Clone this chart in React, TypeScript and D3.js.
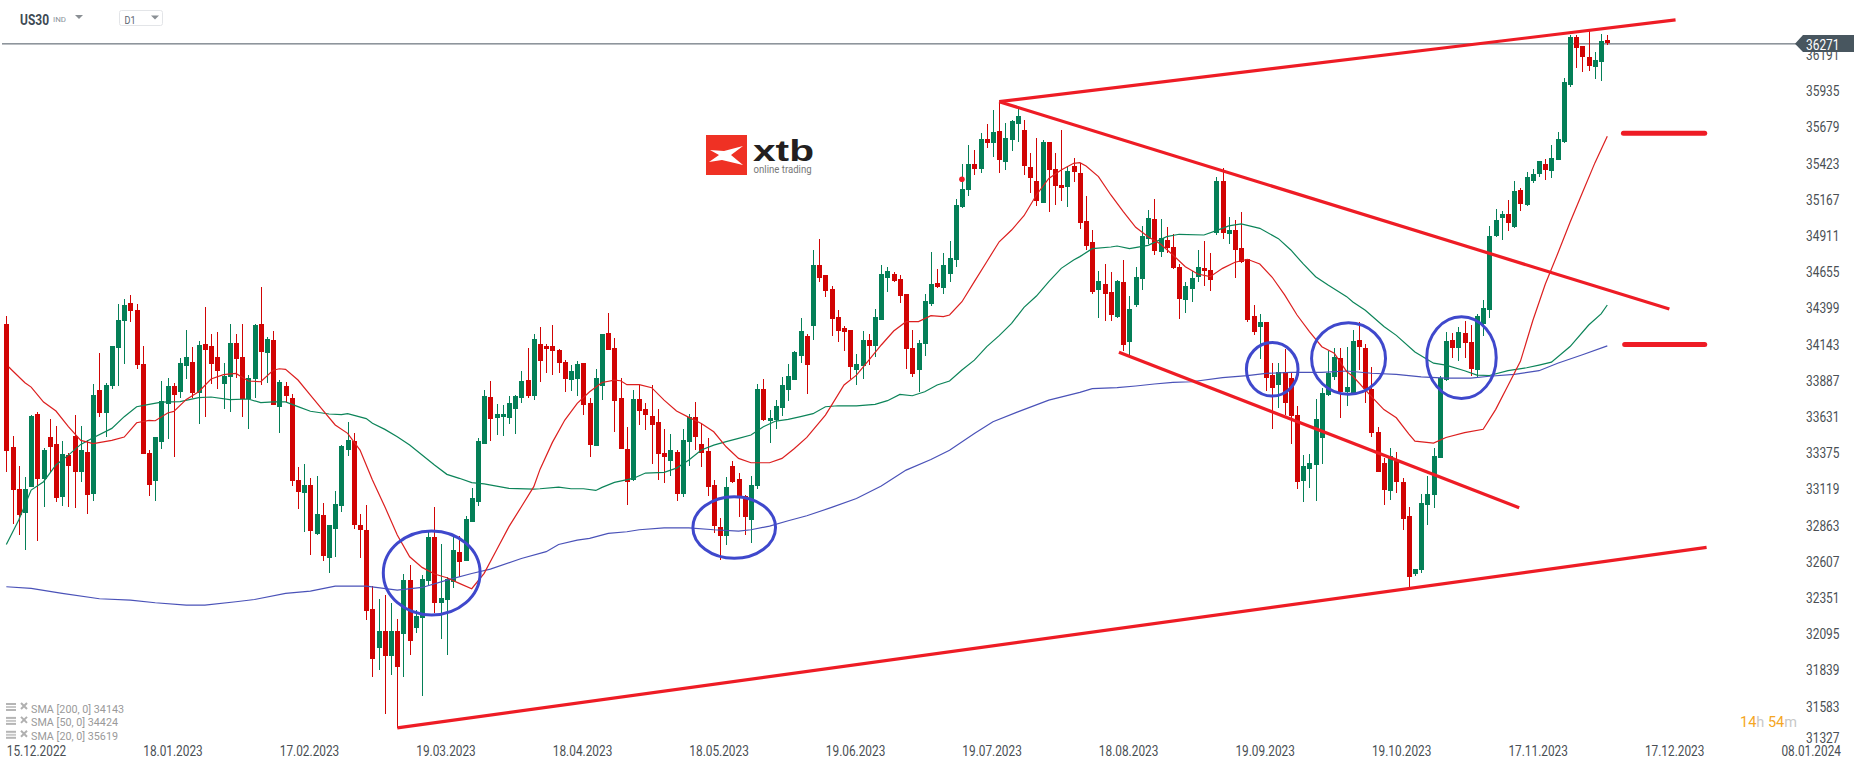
import React from 'react';
import * as d3 from 'd3';

// open, high, low, close per daily bar
const ohlc: [number, number, number, number][] = [
  [34288,34345,33244,33392],[33418,33496,32876,33116],[33121,33284,32798,32939],[32954,33206,32692,33121],[33137,33644,33137,33637],
  [33651,33666,32755,33192],[33194,33411,32996,33397],[33489,33616,33244,33418],[33439,33567,33031,33060],[33067,33460,33003,33368],
  [33361,33376,32996,33284],[33496,33644,32989,33244],[33244,33567,33173,33397],[33383,33468,32946,33081],[33088,33864,33038,33786],
  [33821,34083,33633,33661],[33661,33871,33491,33857],[33850,34132,33831,34132],[34121,34430,33852,34316],[34312,34465,34008,34423],
  [34437,34493,34305,34380],[34387,34430,33972,34000],[34005,34132,33371,33371],[33376,33397,33074,33152],[33180,33489,33038,33489],
  [33456,33885,33406,33743],[33725,33906,33477,33850],[33850,33871,33350,33786],[33809,34048,33762,34012],[33993,34246,33901,34055],
  [34019,34125,33767,33802],[33802,34168,33583,34140],[34147,34408,33633,34107],[34132,34217,33866,34008],[34055,34232,33831,33958],
  [33866,34012,33689,33920],[33916,34288,33668,34154],[34154,34217,33904,34043],[34055,34288,33633,33760],[33760,33927,33548,33906],
  [33901,34288,33767,34281],[34288,34550,33859,34092],[34085,34196,33873,34182],[34175,34239,33713,33718],[33704,33892,33520,33878],
  [33850,33876,33739,33782],[33765,33793,33145,33180],[33185,33277,32982,33102],[33095,33298,32819,33150],[33150,33199,32654,32826],
  [32805,33213,32798,32944],[32937,33022,32614,32650],[32636,32867,32529,32867],[32841,33107,32643,33015],[33003,33433,32961,33425],
  [33399,33595,33357,33468],[33461,33517,32841,32869],[32867,32944,32636,32831],[32831,33008,32197,32261],[32272,32435,31794,31921],
  [31999,32343,31843,32117],[32117,32371,31532,31942],[31942,32315,31808,32117],[32117,32202,31432,31864],[32098,32520,31794,32478],
  [32478,32584,31949,32048],[32140,32265,32105,32223],[32211,32513,31659,32485],[32473,32817,32442,32782],[32782,32994,32242,32317],
  [32317,32732,32062,32350],[32338,32501,31949,32487],[32466,32779,32423,32690],[32676,32786,32501,32607],[32614,32930,32612,32909],
  [32890,33128,32890,33058],[33032,33482,33003,33461],[33442,33822,33442,33779],[33772,33885,33463,33619],[33624,33723,33506,33652],
  [33631,33715,33499,33652],[33626,33779,33583,33730],[33690,33786,33513,33779],[33767,33956,33732,33885],[33892,34119,33767,33782],
  [33782,34218,33753,34182],[34147,34267,33881,34029],[34132,34147,33944,34114],[34132,34281,33930,34099],[34104,34111,33944,34015],
  [34019,34033,33809,33901],[33894,33998,33816,33956],[33901,34026,33781,34005],[34012,34012,33647,33717],[33729,33765,33350,33434],
  [33427,33970,33427,33906],[33852,34217,33753,34217],[34224,34366,34104,34106],[34118,34189,33526,33746],[33765,33906,33406,33406],
  [33404,33559,33010,33173],[33187,33821,33180,33757],[33757,33857,33576,33675],[33687,33729,33541,33647],[33637,33857,33300,33576],
  [33595,33687,33187,33371],[33376,33545,33166,33350],[33321,33510,33215,33397],[33383,33397,33038,33088],[33088,33545,33067,33467],
  [33456,33651,33286,33633],[33630,33736,33397,33491],[33439,33588,33279,33378],[33390,33482,33074,33137],[33149,33184,32812,32861],
  [32852,32916,32621,32791],[32791,33206,32727,33135],[33284,33319,33166,33173],[33192,33234,32925,33067],[33071,33078,32798,32923],
  [32904,33213,32741,33149],[33144,33864,33123,33828],[33828,33899,33604,33611],[33604,33680,33449,33623],[33611,33750,33548,33708],
  [33696,33913,33640,33857],[33823,34005,33746,33920],[33894,34097,33894,34090],[34064,34330,34015,34239],[34203,34217,33795,34000],
  [34276,34812,34177,34705],[34705,34889,34588,34616],[34635,34635,34481,34524],[34536,34557,34206,34326],[34338,34387,34163,34241],
  [34260,34274,34099,34234],[34246,34246,33897,33986],[33965,34076,33859,34005],[33993,34239,33901,34175],[34175,34217,34000,34135],
  [34135,34394,34057,34338],[34319,34705,34319,34642],[34616,34691,34517,34663],[34642,34656,34588,34595],[34606,34635,34439,34488],
  [34500,34500,33972,34114],[34118,34246,33915,33937],[33965,34175,33809,34154],[34149,34500,34064,34451],[34432,34797,34418,34571],
  [34578,34677,34545,34552],[34545,34790,34503,34705],[34644,34875,34588,34755],[34743,35172,34694,35130],[35118,35420,35111,35243],
  [35238,35554,35196,35420],[35420,35519,35342,35387],[35387,35639,35359,35597],[35597,35703,35535,35571],[35571,35802,35472,35646],
  [35653,35851,35359,35451],[35436,35710,35380,35604],[35592,35731,35514,35724],[35705,35809,35578,35759],[35660,35731,35342,35408],
  [35399,35498,35217,35323],[35300,35604,35125,35161],[35146,35590,35146,35576],[35576,35576,35083,35380],[35385,35498,35132,35267],
  [35271,35660,35161,35252],[35260,35406,35118,35370],[35406,35462,35295,35366],[35357,35430,34960,35005],[35017,35194,34809,34843],
  [34868,34953,34503,34517],[34531,34663,34333,34593],[34571,34713,34312,34503],[34515,34656,34312,34354],[34340,34600,34333,34593],
  [34585,34741,34100,34142],[34163,34486,34071,34394],[34425,34692,34411,34621],[34609,34982,34531,34911],[34892,35095,34857,35038],
  [35031,35173,34779,34807],[34800,35031,34765,34897],[34883,34975,34793,34828],[34833,34925,34680,34687],[34692,34713,34326,34468],
  [34460,34585,34369,34557],[34538,34663,34446,34614],[34623,34812,34588,34692],[34685,34876,34560,34666],[34670,34791,34524,34602],
  [34934,35328,34920,35300],[35300,35392,34892,34934],[34927,35045,34857,34956],[34956,35024,34616,34814],[34826,35081,34722,34729],
  [34748,34748,34305,34319],[34345,34423,34213,34234],[34270,34361,34043,34303],[34303,34303,33817,33909],[33928,34013,33548,33838],
  [33859,34013,33697,33949],[33949,34114,33647,33732],[33906,33944,33442,33640],[33645,33711,33123,33173],[33180,33364,33027,33284],
  [33265,33369,33131,33305],[33293,33758,33039,33616],[33484,33836,33300,33800],[33788,34097,33781,33942],[33916,34119,33892,34055],
  [34048,34121,33621,33810],[33805,34123,33711,33843],[33801,34247,33788,34168],[34176,34302,33966,34129],[34118,34145,33727,33827],
  [33827,33985,33486,33517],[33523,33557,33242,33242],[33302,33341,33008,33113],[33110,33410,33047,33355],[33320,33381,33092,33171],
  [33171,33197,32830,32908],[32927,32995,32410,32496],[32517,32559,32507,32557],[32546,33084,32528,33019],[33008,33210,32864,33089],
  [33079,33410,32984,33352],[33341,33924,33341,33906],[33893,34231,33887,34168],[34176,34226,34048,34118],[34118,34268,34029,34231],
  [34226,34310,34050,34155],[34160,34281,33919,33969],[33964,34357,33906,34344],[34289,34457,34200,34399],[34384,34982,34334,34914],
  [34909,35105,34901,35027],[35040,35087,34880,35063],[35063,35166,34943,35006],[34972,35297,34966,35226],[35237,35247,35090,35137],
  [35127,35360,35121,35331],[35302,35386,35284,35352],[35352,35439,35326,35439],[35423,35452,35310,35381],[35368,35552,35318,35460],
  [35447,35644,35447,35594],[35573,36027,35567,35998],[35977,36334,35966,36321],[36318,36334,36098,36239],[36255,36255,36069,36176],
  [36176,36360,36077,36116],[36106,36211,36019,36155],[36142,36339,36006,36289],[36295,36331,36260,36274],
];

// moving averages, [bar, price]
const sma20: [number, number][] = [
  [0.4,33984],[1,33958],[3,33873],[4,33842],[6,33736],[8,33673],[10,33562],[12,33465],[14,33442],[17,33465],[19,33489],[21,33590],[23,33607],[24,33604],
  [26,33659],[27,33670],[29,33755],[31,33809],[33,33899],[35,33930],[37,33939],[39,33885],[41,33880],[43,33961],[44,33972],[45,33968],[47,33892],
  [49,33786],[51,33680],[53,33574],[55,33515],[57,33397],[59,33185],[61,32996],[63,32796],[65,32642],[67,32567],[69,32520],[71,32494],[73,32454],
  [75,32416],[77,32525],[79,32690],[81,32855],[83,32996],[85,33138],[86,33260],[88,33451],[90,33609],[92,33727],[94,33809],[96,33875],[98,33892],
  [99,33887],[100,33859],[102,33859],[104,33838],[106,33750],[108,33673],[110,33628],[112,33585],[114,33526],[116,33420],[118,33338],[120,33307],
  [123,33307],[125,33338],[127,33408],[129,33486],[132,33644],[133,33715],[135,33857],[137,33927],[139,34033],[141,34140],[143,34239],[145,34305],
  [147,34305],[149,34347],[151,34340],[152,34352],[154,34446],[156,34588],[158,34729],[160,34870],[162,34953],[164,35054],[166,35201],[168,35318],
  [170,35377],[172,35425],[173,35429],[174,35406],[176,35331],[178,35201],[180,35083],[182,34972],[184,34906],[186,34854],[188,34776],[190,34694],
  [192,34642],[194,34623],[196,34682],[198,34725],[200,34746],[202,34713],[204,34619],[206,34494],[208,34352],[210,34234],[212,34128],[214,34081],
  [216,33951],[217,33919],[220,33775],[222,33683],[224,33625],[226,33512],[227,33460],[230,33446],[232,33486],[235,33520],[238,33544],[240,33683],
  [242,33853],[244,34024],[246,34313],[248,34570],[250,34785],[252,35008],[254,35218],[256,35428],[258,35617],
];
const sma50: [number, number][] = [
  [0,32729],[2,32902],[4,33114],[6,33173],[8,33291],[10,33361],[12,33437],[14,33484],[17,33550],[19,33633],[21,33703],[23,33720],[25,33736],[28,33739],
  [31,33767],[33,33772],[36,33753],[39,33758],[41,33732],[43,33737],[45,33737],[47,33704],[49,33671],[52,33652],[54,33647],[55,33654],[58,33619],
  [59,33586],[61,33543],[63,33491],[65,33432],[67,33362],[69,33291],[71,33225],[73,33197],[75,33166],[77,33157],[79,33142],[81,33126],[85,33121],
  [86,33123],[89,33135],[91,33123],[93,33123],[95,33111],[96,33133],[98,33168],[101,33196],[103,33234],[106,33239],[108,33269],[110,33326],[112,33397],
  [114,33432],[116,33456],[118,33479],[120,33503],[122,33562],[124,33602],[126,33614],[128,33633],[130,33654],[132,33703],[134,33710],[137,33710],
  [140,33720],[142,33746],[144,33790],[146,33781],[148,33809],[150,33857],[152,33885],[154,33963],[156,34033],[158,34128],[160,34206],[162,34293],
  [164,34406],[166,34486],[168,34588],[170,34682],[172,34741],[173,34765],[175,34821],[178,34833],[179,34840],[181,34821],[184,34845],[187,34906],
  [189,34923],[193,34918],[195,34949],[197,34982],[199,34996],[202,34965],[205,34892],[207,34812],[209,34713],[211,34623],[213,34564],[216,34482],
  [217,34444],[219,34386],[222,34271],[224,34208],[227,34090],[230,34011],[232,33998],[235,33958],[237,33927],[239,33924],[242,33958],[245,33979],
  [247,33998],[249,34019],[252,34129],[255,34281],[257,34360],[258,34423],
];
const sma200: [number, number][] = [
  [0,32430],[4,32418],[9,32383],[15,32345],[20,32336],[24,32317],[29,32300],[32,32300],[37,32324],[40,32340],[45,32383],[49,32399],[53,32435],[58,32435],
  [63,32406],[67,32425],[71,32477],[75,32524],[78,32555],[83,32630],[87,32678],[89,32729],[92,32760],[94,32772],[97,32807],[100,32819],[102,32833],
  [106,32847],[110,32847],[114,32833],[118,32824],[120,32833],[123,32859],[126,32897],[129,32932],[133,32991],[137,33054],[141,33142],[145,33255],
  [149,33330],[152,33396],[156,33514],[159,33597],[163,33667],[168,33750],[173,33805],[175,33831],[179,33838],[182,33850],[185,33864],[188,33876],
  [191,33880],[196,33909],[200,33923],[203,33939],[207,33946],[212,33946],[216,33956],[220,33940],[224,33932],[228,33914],[232,33906],[236,33906],
  [239,33919],[243,33932],[247,33958],[250,34011],[254,34071],[258,34134],
];

const priceTicks = [36191,35935,35679,35423,35167,34911,34655,34399,34143,33887,33631,33375,33119,32863,32607,32351,32095,31839,31583,31327];
const dateLabels = ['15.12.2022','18.01.2023','17.02.2023','19.03.2023','18.04.2023','18.05.2023','19.06.2023','19.07.2023','18.08.2023','19.09.2023','19.10.2023','17.11.2023','17.12.2023','08.01.2024'];
const barsPerDateLabel = 22;
const lastPrice = 36271;

const legendRows = ['SMA [200, 0] 34143', 'SMA [50, 0] 34424', 'SMA [20, 0] 35619'];

// hand drawn trend lines: [bar, price] -> [bar, price]
const trendLines: [number, number, number, number][] = [
  [160,35861,269,36439],
  [160,35861,268,34394],
  [179.3,34088,243.8,32989],
  [63,31432,274,32708],
];
const levelLines: [number, number, number][] = [
  [260.6,273.7,35637],
  [260.8,273.7,34144],
];
// centre bar, centre price, half width in bars, half height in points
const circles: [number, number, number, number][] = [
  [68.55,32528,7.8,297],
  [117.3,32849,6.66,218],
  [204,33968,4.16,189],
  [216.3,34045,5.96,253],
  [234.5,34050,5.6,289],
];
const markerDot = [154, 35312];

const UP = '#047f57';
const DOWN = '#d10404';
const MARK = '#ee1c25';
const font = 'Roboto, sans-serif';

const x = d3.scaleLinear().domain([0, 258]).range([6.33, 1607.3]);
const y = d3.scaleLinear().domain([31583, 36191]).range([706.5, 55]);

const smaLine = d3.line<[number, number]>().x(d => x(d[0])).y(d => y(d[1]));

export default function App() {
  return (
    <svg width={1866} height={767} style={{ position: 'absolute', left: 0, top: 0, background: '#fff' }}>
      {/* header */}
      <text x={20} y={19.5} fontFamily={font} fontSize={14} fontWeight={700} fill="#3d4a54" dominantBaseline="central" textLength={29} lengthAdjust="spacingAndGlyphs">US30</text>
      <text x={53} y={19.5} fontFamily={font} fontSize={8} fill="#8a9299" dominantBaseline="central" textLength={13} lengthAdjust="spacingAndGlyphs">IND</text>
      <path d="M75,15 L83,15 L79,19 Z" fill="#8a8f94" />
      <rect x={119.5} y={10.5} width={43} height={15} rx={2} fill="#fff" stroke="#e3e5e8" />
      <text x={124.5} y={20} fontFamily={font} fontSize={11} fill="#5a6670" dominantBaseline="central" textLength={11} lengthAdjust="spacingAndGlyphs">D1</text>
      <path d="M151,15.5 L159,15.5 L155,19.5 Z" fill="#8a8f94" />

      {/* logo */}
      <rect x={706} y={135} width={41} height={40} fill="#ef3124" />
      <path d="M710,150 L724,151 L743,146 L731,155 L743,165 L722,160 L709,162 L719,155 Z" fill="#fff" />
      <text x={753} y={161} fontFamily="Liberation Sans, Arial, sans-serif" fontSize={29} fontWeight={700} fill="#231f20" textLength={61} lengthAdjust="spacingAndGlyphs">xtb</text>
      <text x={753.6} y={173} fontFamily={font} fontSize={10.5} fill="#777" textLength={58} lengthAdjust="spacingAndGlyphs">online trading</text>

      {/* last price line */}
      <line x1={2} x2={1796} y1={y(lastPrice) + 0.2} y2={y(lastPrice) + 0.2} stroke="#4a5660" strokeWidth={1} />

      {/* candles */}
      <g shapeRendering="crispEdges">
        {ohlc.map(([o, h, l, c], i) => {
          const cx = Math.round(x(i));
          const top = y(Math.max(o, c));
          const bottom = y(Math.min(o, c));
          const col = c >= o ? UP : DOWN;
          return (
            <g key={i}>
              <line x1={cx + 0.5} x2={cx + 0.5} y1={y(h)} y2={y(l)} stroke={col} />
              <rect x={cx - 2} y={top} width={5} height={Math.max(bottom - top, 1)} fill={col} />
            </g>
          );
        })}
      </g>

      {/* moving averages */}
      <path d={smaLine(sma200) ?? ''} fill="none" stroke="#4a52b8" strokeWidth={1.2} />
      <path d={smaLine(sma50) ?? ''} fill="none" stroke="#0c8459" strokeWidth={1.2} />
      <path d={smaLine(sma20) ?? ''} fill="none" stroke="#dc1f1f" strokeWidth={1.2} />

      {/* drawings */}
      {trendLines.map(([b0, p0, b1, p1], i) => (
        <line key={i} x1={x(b0)} y1={y(p0)} x2={x(b1)} y2={y(p1)} stroke={MARK} strokeWidth={3.2} />
      ))}
      {levelLines.map(([b0, b1, p], i) => (
        <line key={i} x1={x(b0)} x2={x(b1)} y1={y(p)} y2={y(p)} stroke={MARK} strokeWidth={5} strokeLinecap="round" />
      ))}
      {circles.map(([b, p, db, dp], i) => (
        <ellipse key={i} cx={x(b)} cy={y(p)} rx={x(b + db) - x(b)} ry={y(p - dp) - y(p)} fill="none" stroke="#3f48cc" strokeWidth={3} />
      ))}
      <circle cx={x(markerDot[0])} cy={y(markerDot[1])} r={2.8} fill={MARK} />

      {/* price axis */}
      {priceTicks.map(t => (
        <text key={t} x={1806} y={Math.min(y(t), 738)} fontFamily={font} fontSize={14} fill="#4a4f54" dominantBaseline="central" textLength={33.5} lengthAdjust="spacingAndGlyphs">{t}</text>
      ))}
      <path d={d3.line()([[1795, y(lastPrice)], [1803, 35], [1854, 35], [1854, 52], [1803, 52]]) + 'Z'} fill="#48565f" />
      <text x={1806} y={y(lastPrice) + 1} fontFamily={font} fontSize={14} fill="#fff" dominantBaseline="central" textLength={33.5} lengthAdjust="spacingAndGlyphs">{lastPrice}</text>

      {/* date axis */}
      {dateLabels.map((d, i) => (
        <text key={d} x={x(i * barsPerDateLabel) + 0.4} y={751} fontFamily={font} fontSize={14} fill="#4a4f54" dominantBaseline="central" textLength={59.5} lengthAdjust="spacingAndGlyphs">{d}</text>
      ))}

      {/* indicator legend */}
      {legendRows.map((row, i) => {
        const ry = 708 + i * 13.9;
        return (
          <g key={row}>
            <rect x={6} y={ry - 5} width={10} height={2} fill="#b5b5b5" />
            <rect x={6} y={ry - 2} width={10} height={2} fill="#c8c8c8" />
            <rect x={6} y={ry + 1} width={10} height={2} fill="#b5b5b5" />
            <path d={`M21,${ry - 5} L27,${ry + 1} M27,${ry - 5} L21,${ry + 1}`} stroke="#b0b0b0" strokeWidth={2} />
            <text x={31} y={ry + 1} fontFamily={font} fontSize={11} fill="#9a9a9a" dominantBaseline="central" textLength={i === 0 ? 93 : 87} lengthAdjust="spacingAndGlyphs">{row}</text>
          </g>
        );
      })}

      {/* countdown */}
      <text x={1740} y={722} fontFamily={font} fontSize={15} dominantBaseline="central" textLength={57} lengthAdjust="spacingAndGlyphs">
        <tspan fill="#f5a623">14</tspan><tspan fill="#c8c8c8">h </tspan><tspan fill="#f5a623">54</tspan><tspan fill="#c8c8c8">m</tspan>
      </text>
    </svg>
  );
}
